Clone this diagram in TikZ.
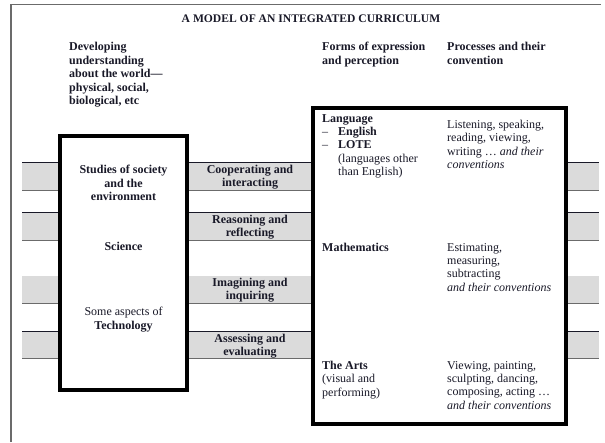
\documentclass[tikz,border=0pt]{standalone}
\usepackage{fontspec}
\setmainfont{Liberation Serif}
\usetikzlibrary{positioning}

\definecolor{bandgray}{gray}{0.86}
\definecolor{rulegray}{gray}{0.42}
\definecolor{ink}{RGB}{25,25,40}

\begin{document}
\begin{tikzpicture}[x=1pt, y=-1pt, every node/.style={inner sep=0pt, text=ink, font=\fontsize{12}{13.4}\selectfont}, txt/.style={align=left, anchor=north west}, ctr/.style={align=center, anchor=north, font=\fontsize{12}{13.4}\selectfont\bfseries}, heavybox/.style={rectangle, draw=black, fill=white}, band/.style={fill=bandgray}]

  \useasboundingbox (0,0) rectangle (605,442);

  % page frame (top and left only)
  \draw[rulegray, line width=1.3pt] (11,442) -- (11,4.5) -- (601,4.5);

  % grey bands running across the whole figure
  \fill[band] (22,162) rectangle (599,190);
  \fill[band] (22,212) rectangle (599,240);
  \fill[band] (22,276) rectangle (599,303);
  \fill[band] (22,331) rectangle (599,358);
  \draw[ink, line width=0.7pt] (22,162) -- (599,162) (22,212) -- (599,212) (22,331) -- (599,331);
  \draw[rulegray, line width=1pt] (22,190) -- (599,190) (22,240) -- (599,240) (22,303) -- (599,303) (22,358) -- (599,358);

  % the two heavy boxes
  \node[heavybox, line width=3.6pt, minimum width=127, minimum height=254] (worldbox) at (123.5,263) {};
  \node[heavybox, line width=4.6pt, minimum width=253, minimum height=316] (formsbox) at (439.5,266) {};

  % headings
  \node[anchor=north, font=\fontsize{11.6}{12}\selectfont\bfseries] (title) at (311,15) {A MODEL OF AN INTEGRATED CURRICULUM};
  \node[txt, font=\fontsize{12}{13.6}\selectfont\bfseries] (world) at (69,42) {Developing\\understanding\\about the world---\\physical, social,\\biological, etc};
  \node[txt, font=\fontsize{12}{13.6}\selectfont\bfseries] (forms) at (322,42) {Forms of expression\\and perception};
  \node[txt, font=\fontsize{12}{13.6}\selectfont\bfseries] (procs) at (447,42) {Processes and their\\convention};

  % left box contents
  \node[ctr] (society) at (123.5,165) {Studies of society\\and the\\environment};
  \node[ctr] (science) at (123.5,242) {Science};
  \node[ctr, font=\fontsize{12}{13.4}\selectfont] (techno) at (123.5,307) {Some aspects of\\\textbf{Technology}};

  % processes on the bands
  \node[ctr] (coop) at (250,165) {Cooperating and\\interacting};
  \node[ctr] (reason) at (250,215) {Reasoning and\\reflecting};
  \node[ctr] (imagine) at (250,278) {Imagining and\\inquiring};
  \node[ctr] (assess) at (250,334) {Assessing and\\evaluating};

  % right box contents
  \node[txt] (lang) at (322,114) {\textbf{Language}\\\makebox[16pt][l]{--}\textbf{English}\\\makebox[16pt][l]{--}\textbf{LOTE}\\\hspace*{16pt}(languages other\\\hspace*{16pt}than English)};
  \node[txt] (langproc) at (447,120) {Listening, speaking,\\reading, viewing,\\writing \dots{} \textit{and their}\\\textit{conventions}};
  \node[txt] (maths) at (322,243) {\textbf{Mathematics}};
  \node[txt] (mathsproc) at (447,243) {Estimating,\\measuring,\\subtracting\\\textit{and their conventions}};
  \node[txt] (arts) at (322,361) {\textbf{The Arts}\\(visual and\\performing)};
  \node[txt] (artsproc) at (447,361) {Viewing, painting,\\sculpting, dancing,\\composing, acting \dots\\\textit{and their conventions}};

\end{tikzpicture}
\end{document}
